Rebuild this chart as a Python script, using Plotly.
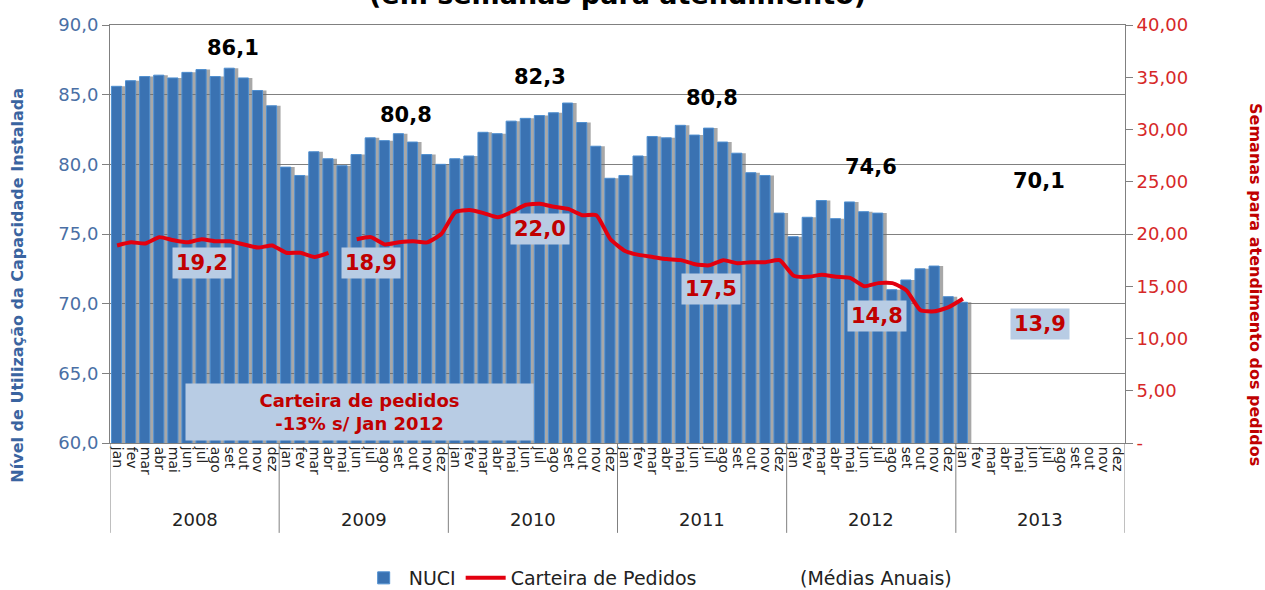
import plotly.graph_objects as go

months = ["jan", "fev", "mar", "abr", "mai", "jun", "jul", "ago", "set", "out", "nov", "dez"]
years = ["2008", "2009", "2010", "2011", "2012", "2013"]

nuci_2008 = [85.6, 86.0, 86.3, 86.4, 86.2, 86.6, 86.8, 86.3, 86.9, 86.2, 85.3, 84.2]
nuci_2009 = [79.8, 79.2, 80.9, 80.4, 79.9, 80.7, 81.9, 81.7, 82.2, 81.6, 80.7, 80.0]
nuci_2010 = [80.4, 80.6, 82.3, 82.2, 83.1, 83.3, 83.5, 83.7, 84.4, 83.0, 81.3, 79.0]
nuci_2011 = [79.2, 80.6, 82.0, 81.9, 82.8, 82.1, 82.6, 81.6, 80.8, 79.4, 79.2, 76.5]
nuci_2012 = [74.8, 76.2, 77.4, 76.1, 77.3, 76.6, 76.5, 71.0, 71.7, 72.5, 72.7, 70.5]
nuci_2013 = [70.1]

cart_2008 = [18.9, 19.2, 19.1, 19.7, 19.4, 19.2, 19.5, 19.3, 19.3, 19.0, 18.7, 18.9]
cart_2009 = [18.2, 18.2, 17.8, 18.2, None, 19.5, 19.7, 19.0, 19.2, 19.3, 19.2, 20.0]
cart_2010 = [22.1, 22.3, 22.0, 21.6, 22.1, 22.8, 22.9, 22.6, 22.4, 21.8, 21.8, 19.5]
cart_2011 = [18.4, 18.0, 17.8, 17.6, 17.5, 17.1, 17.0, 17.5, 17.2, 17.3, 17.3, 17.5]
cart_2012 = [16.0, 15.9, 16.1, 15.9, 15.8, 15.0, 15.3, 15.3, 14.6, 12.7, 12.6, 13.0]
cart_2013 = [13.8]

nuci_avg_labels = ["86,1", "80,8", "82,3", "80,8", "74,6", "70,1"]
cart_avg_labels = ["19,2", "18,9", "22,0", "17,5", "14,8", "13,9"]
cart_avg_values = [19.2, 18.9, 22.0, 17.5, 14.8, 13.9]

# label placement (layout, not data)
nuci_lbl_x = [8.2, 20.5, 30.0, 42.2, 53.5, 65.4]
nuci_lbl_y = [88.35, 83.55, 86.25, 84.75, 79.8, 78.8]
cart_lbl_x = [6.0, 18.0, 30.0, 42.1, 53.9, 65.5]
cart_lbl_dy = [-2.0, -1.7, -1.5, -2.8, -2.65, -2.5]

nuci = nuci_2008 + nuci_2009 + nuci_2010 + nuci_2011 + nuci_2012 + nuci_2013
cart = cart_2008 + cart_2009 + cart_2010 + cart_2011 + cart_2012 + cart_2013
n_months = 12 * len(years)
idx = list(range(n_months))
ticktext = months * len(years)

FONT = "DejaVu Sans"
BAR = "#3A72B2"
RED = "#E3000F"
DARKRED = "#C00000"
BOXBG = "#B8CCE4"
GRAY = "#808080"

fig = go.Figure()
# shadow
fig.add_trace(go.Bar(x=idx[:len(nuci)], y=nuci, width=0.72, offset=-0.12,
                     marker=dict(color="rgba(110,110,110,0.6)", line=dict(width=0)),
                     showlegend=False, hoverinfo="skip"))
fig.add_trace(go.Bar(x=idx[:len(nuci)], y=nuci, width=0.72, offset=-0.4, name="NUCI",
                     marker=dict(color=BAR, line=dict(color="#4F8FD0", width=1))))
fig.add_trace(go.Scatter(x=idx[:len(cart)], y=cart, yaxis="y2", mode="lines",
                         name="Carteira de Pedidos", connectgaps=False,
                         line=dict(color=RED, width=4, shape="spline", smoothing=0.5)))

annotations = []
for k, t in enumerate(nuci_avg_labels):
    annotations.append(dict(x=nuci_lbl_x[k], y=nuci_lbl_y[k], xref="x", yref="y", text="<b>%s</b>" % t,
                            showarrow=False, yanchor="middle",
                            font=dict(family=FONT, size=21, color="black")))
for k, t in enumerate(cart_avg_labels):
    annotations.append(dict(x=cart_lbl_x[k], y=cart_avg_values[k] + cart_lbl_dy[k], xref="x", yref="y2",
                            text="<b>%s</b>" % t, showarrow=False, bgcolor=BOXBG, borderpad=3,
                            yanchor="middle", font=dict(family=FONT, size=21, color=DARKRED)))
for k, yr in enumerate(years):
    annotations.append(dict(x=12 * k + 5.5, y=-0.184, xref="x", yref="paper", text=yr, showarrow=False,
                            xanchor="center", yanchor="middle",
                            font=dict(family=FONT, size=18, color="#222222")))
annotations += [
    dict(x=17.2, y=62.2, xref="x", yref="y", text="<b>Carteira de pedidos<br>-13% s/ Jan 2012</b>",
         showarrow=False, bgcolor=BOXBG, width=345, height=54, yanchor="middle",
         font=dict(family=FONT, size=18, color=DARKRED)),
    dict(x=-0.091, y=0.378, xref="paper", yref="paper", textangle=-90, showarrow=False,
         xanchor="center", yanchor="middle",
         text="<b>Nível de Utilização da Capacidade Instalada</b>",
         font=dict(family=FONT, size=16, color="#3A64A0")),
    dict(x=1.128, y=0.378, xref="paper", yref="paper", textangle=90, showarrow=False,
         xanchor="center", yanchor="middle",
         text="<b>Semanas para atendimento dos pedidos</b>",
         font=dict(family=FONT, size=16, color=DARKRED)),
    dict(x=0.5, y=1.032, xref="paper", yref="paper", xanchor="center", yanchor="bottom", showarrow=False,
         text="<b>(em semanas para atendimento)</b>",
         font=dict(family=FONT, size=27, color="black")),
    dict(x=0.755, y=-0.323, xref="paper", yref="paper", xanchor="center", yanchor="middle", showarrow=False,
         text="(Médias Anuais)", font=dict(family=FONT, size=19, color="#222222")),
]

shapes = []
for k in range(len(years) + 1):
    shapes.append(dict(type="line", xref="x", yref="paper", x0=12 * k - 0.5, x1=12 * k - 0.5,
                       y0=0, y1=-0.215, line=dict(color=GRAY, width=1)))

fig.update_layout(
    width=1265, height=590,
    margin=dict(l=110, r=140, t=25, b=147, autoexpand=False),
    paper_bgcolor="white", plot_bgcolor="white",
    barmode="overlay",
    font=dict(family=FONT),
    xaxis=dict(range=[-0.5, n_months - 0.5], tickmode="array", tickvals=idx, ticktext=ticktext,
               tickangle=90, tickfont=dict(family=FONT, size=14, color="#222222"), automargin=False,
               showgrid=False, showline=True, linecolor=GRAY, mirror=True, ticks="", zeroline=False),
    yaxis=dict(range=[60, 90], tickmode="array", tickvals=[60, 65, 70, 75, 80, 85, 90],
               ticktext=["60,0", "65,0", "70,0", "75,0", "80,0", "85,0", "90,0"],
               tickfont=dict(family=FONT, size=18, color="#4A6FA5"), automargin=False,
               showgrid=True, gridcolor=GRAY, gridwidth=1, showline=True, linecolor=GRAY,
               ticks="outside", ticklen=7, tickcolor=GRAY, zeroline=False),
    yaxis2=dict(range=[0, 40], overlaying="y", side="right", tickmode="array",
                tickvals=[0, 5, 10, 15, 20, 25, 30, 35, 40],
                ticktext=["-", "5,00", "10,00", "15,00", "20,00", "25,00", "30,00", "35,00", "40,00"],
                tickfont=dict(family=FONT, size=18, color="#D62828"), automargin=False,
                showgrid=False, showline=True, linecolor=GRAY, ticks="outside", ticklen=7,
                tickcolor=GRAY, zeroline=False),
    legend=dict(orientation="h", x=0.245, xanchor="left", y=-0.323, yanchor="middle",
                font=dict(family=FONT, size=19, color="#222222"), bgcolor="rgba(0,0,0,0)",
                itemwidth=40, traceorder="normal"),
    annotations=annotations,
    shapes=shapes,
)

fig.write_html("out.html", config={"displayModeBar": False},
               post_script="document.body.style.margin='0';")
